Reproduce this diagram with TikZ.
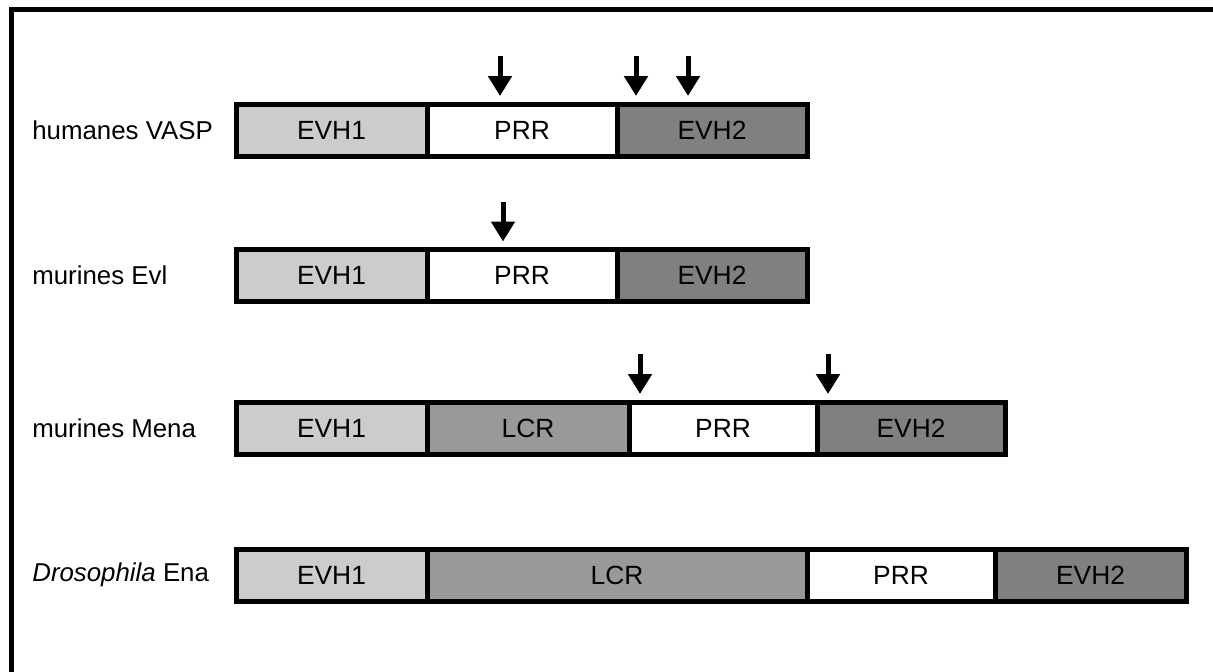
\documentclass[tikz,border=0pt]{standalone}
\usepackage{fontspec}
\setmainfont{Liberation Sans}
\usetikzlibrary{arrows.meta}
\definecolor{evhonegray}{HTML}{CCCCCC}
\definecolor{lcrgray}{HTML}{999999}
\definecolor{evhtwogray}{HTML}{808080}
\begin{document}
\begin{tikzpicture}[
  dom/.style={draw=black, line width=0.1cm, outer sep=0pt, inner sep=0pt, minimum height=1.04cm, anchor=west, font=\fontsize{15}{18}\selectfont},
  evhone/.style={dom, fill=evhonegray, minimum width=3.82cm},
  lcr/.style={dom, fill=lcrgray},
  prr/.style={dom, fill=white},
  evhtwo/.style={dom, fill=evhtwogray},
  protname/.style={anchor=west, inner sep=0pt, font=\fontsize{14.7}{17}\selectfont},
  site/.style={line width=0.1cm, -{Triangle[width=0.46cm, length=0.4cm]}, shorten >=0.16cm},
  frame/.style={line width=0.1cm}
]
\useasboundingbox (0,0) rectangle (24.26,-13.42);
\draw[frame] (0.23,-13.6) -- (0.23,-0.19) -- (24.4,-0.19);

% humanes VASP
\node[protname] (vasp) at (0.64,-2.6) {humanes VASP};
\node[evhone] (vasp1) at (4.72,-2.6) {EVH1};
\node[prr, minimum width=3.80cm] (vasp2) at (vasp1.east) {PRR};
\node[evhtwo, minimum width=3.80cm] (vasp3) at (vasp2.east) {EVH2};

% murines Evl
\node[protname] (evl) at (0.64,-5.51) {murines Evl};
\node[evhone] (evl1) at (4.72,-5.51) {EVH1};
\node[prr, minimum width=3.80cm] (evl2) at (evl1.east) {PRR};
\node[evhtwo, minimum width=3.80cm] (evl3) at (evl2.east) {EVH2};

% murines Mena
\node[protname] (mena) at (0.64,-8.56) {murines Mena};
\node[evhone] (mena1) at (4.72,-8.56) {EVH1};
\node[lcr, minimum width=4.04cm] (mena2) at (mena1.east) {LCR};
\node[prr, minimum width=3.76cm] (mena3) at (mena2.east) {PRR};
\node[evhtwo, minimum width=3.76cm] (mena4) at (mena3.east) {EVH2};

% Drosophila Ena
\node[protname] (ena) at (0.64,-11.5) {\textit{Drosophila} Ena};
\node[evhone] (ena1) at (4.72,-11.5) {EVH1};
\node[lcr, minimum width=7.60cm] (ena2) at (ena1.east) {LCR};
\node[prr, minimum width=3.76cm] (ena3) at (ena2.east) {PRR};
\node[evhtwo, minimum width=3.82cm] (ena4) at (ena3.east) {EVH2};

% Pfeile
\coordinate (vs1) at (10.0,-1.12);
\coordinate (vs2) at (12.72,-1.12);
\coordinate (vs3) at (13.76,-1.12);
\coordinate (es1) at (10.06,-4.03);
\coordinate (ms1) at (12.8,-7.08);
\coordinate (ms2) at (16.56,-7.08);

\draw[site] (vs1) -- (vs1 |- vasp2.north);
\draw[site] (vs2) -- (vs2 |- vasp3.north);
\draw[site] (vs3) -- (vs3 |- vasp3.north);
\draw[site] (es1) -- (es1 |- evl2.north);
\draw[site] (ms1) -- (ms1 |- mena3.north);
\draw[site] (ms2) -- (ms2 |- mena4.north);
\end{tikzpicture}
\end{document}
